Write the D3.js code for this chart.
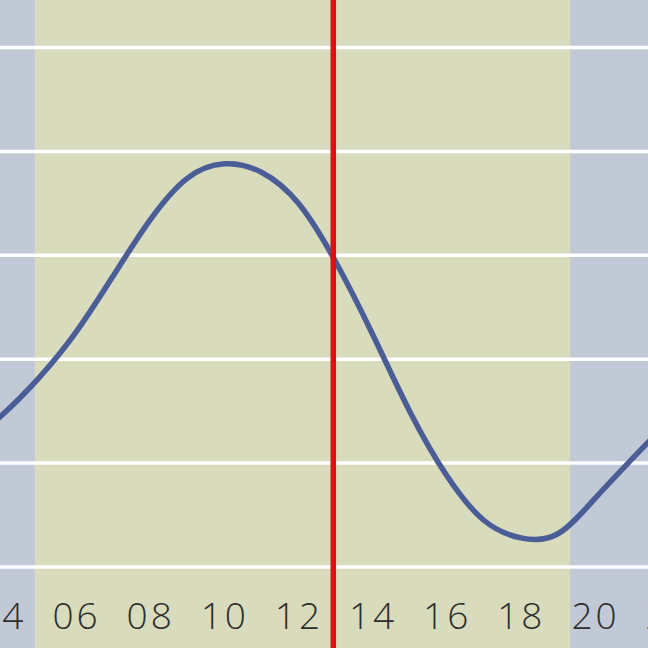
<!DOCTYPE html>
<html>
<head>
<meta charset="utf-8">
<script src="https://cdn.jsdelivr.net/npm/d3@7"></script>
<style>
  html, body { margin: 0; padding: 0; background: #c1c9d7; }
  svg { display: block; }
</style>
</head>
<body>
<svg id="chart" width="648" height="648"></svg>
<script>
// ---- data (hours of day, tide level in cm) ----
const tideHours = [3, 4, 5, 6, 7, 8, 9, 10, 11, 12, 13, 14, 15, 16, 17, 18, 19, 20, 21, 22, 23];
const tideLevels = [58, 73, 91, 113, 140, 167, 187, 194, 190, 175, 147, 112, 75, 44, 22.5, 14, 16, 33, 52, 70, 85];
const gridLevels = [0, 50, 100, 150, 200, 250];
const tickHours = [4, 6, 8, 10, 12, 14, 16, 18, 20, 22];
const tickLabels = ["04", "06", "08", "10", "12", "14", "16", "18", "20", "22"];
const sunrise = 4.89;
const sunset = 19.33;
const nowHour = 12.94;

const W = 648, H = 648;
const svg = d3.select("#chart");

const x = d3.scaleLinear().domain([6, 20]).range([76, 595]);
const y = d3.scaleLinear().domain([0, 250]).range([567, 47.5]);

// night background
svg.append("rect").attr("x", 0).attr("y", 0).attr("width", W).attr("height", H).attr("fill", "#c1c9d7");
// daylight band
svg.append("rect")
  .attr("x", x(sunrise)).attr("y", 0)
  .attr("width", x(sunset) - x(sunrise)).attr("height", H)
  .attr("fill", "#d9dbbd");

// gridlines
svg.append("g").selectAll("line").data(gridLevels).join("line")
  .attr("x1", 0).attr("x2", W)
  .attr("y1", d => y(d)).attr("y2", d => y(d))
  .attr("stroke", "#ffffff").attr("stroke-width", 3.5);

// tide curve
const pts = tideHours.map((h, i) => [h, tideLevels[i]]);
const line = d3.line().x(d => x(d[0])).y(d => y(d[1])).curve(d3.curveNatural);
svg.append("path").datum(pts)
  .attr("d", line)
  .attr("fill", "none")
  .attr("stroke", "#4a5d96")
  .attr("stroke-width", 5.5)
  .attr("stroke-linecap", "round");

// x axis labels
const axis = d3.axisBottom(x).tickValues(tickHours).tickFormat((d, i) => tickLabels[i]).tickSize(0).tickPadding(0);
const ag = svg.append("g").attr("transform", "translate(0,603)").call(axis);
ag.select(".domain").remove();
ag.selectAll("text")
  .attr("dy", "0.71em")
  .attr("fill", "#2e2e2e")
  .style("font-family", "'Open Sans', 'Noto Sans', 'DejaVu Sans', sans-serif")
  .style("font-weight", "300")
  .style("font-size", "37px")
  .style("letter-spacing", "3px");

// current time line
svg.append("line")
  .attr("x1", x(nowHour)).attr("x2", x(nowHour))
  .attr("y1", 0).attr("y2", H)
  .attr("stroke", "#dd1111").attr("stroke-width", 5.5);
</script>
</body>
</html>
